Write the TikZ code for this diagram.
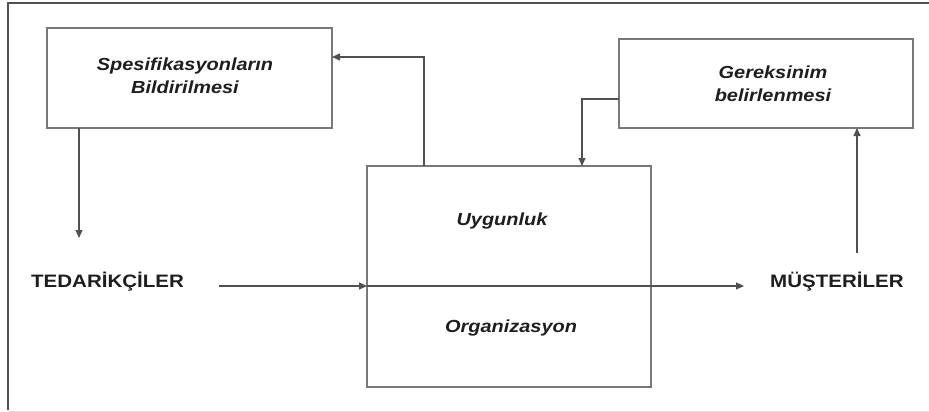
\documentclass[tikz,border=0pt]{standalone}
\usepackage{fontspec}
\setmainfont{Liberation Sans}[FakeStretch=1.14]
\usetikzlibrary{arrows.meta}
\definecolor{linegray}{RGB}{80,80,80}
\definecolor{boxgray}{RGB}{120,120,120}
\definecolor{inkgray}{RGB}{30,30,30}
\definecolor{faint}{RGB}{225,225,225}
\tikzset{
  procbox/.style={draw=boxgray, line width=1.3pt},
  boxtext/.style={text=inkgray, font=\fontsize{17.5}{23}\selectfont\bfseries\itshape, align=center},
  party/.style={text=inkgray, font=\fontsize{18}{21}\selectfont\bfseries, inner sep=0pt},
  inner/.style={text=inkgray, font=\fontsize{17.5}{21}\selectfont\bfseries\itshape, inner sep=0pt},
  flow/.style={draw=linegray, line width=1.1pt, -{Triangle[length=8pt,width=7pt]}}
}
\begin{document}
\begin{tikzpicture}[x=1pt,y=-1pt]
  \useasboundingbox (0,0) rectangle (929,412);
  % page frame
  \draw[line width=1.3pt, draw=linegray] (8,410) -- (8,3) -- (929,3);
  \draw[line width=1pt, draw=faint] (8,411) -- (929,411);

  % process boxes
  \node[procbox, minimum width=285pt, minimum height=100pt] (spec) at (189.5,78) {};
  \node[procbox, minimum width=294pt, minimum height=89pt] (need) at (766,83.5) {};
  \node[procbox, minimum width=284pt, minimum height=221pt] (org) at (509,276.5) {};

  % box texts
  \node[boxtext] (spect) at (185,76) {Spesifikasyonların\\Bildirilmesi};
  \node[boxtext] (needt) at (773,84) {Gereksinim\\belirlenmesi};
  \node[inner] (uyg) at (502,221) {Uygunluk};
  \node[inner] (orgt) at (511,328) {Organizasyon};

  % parties
  \node[party, anchor=west] (ted) at (31,282) {TEDARİKÇİLER};
  \node[party, anchor=west] (mus) at (770,282) {MÜŞTERİLER};

  % anchor points of the connectors
  \coordinate (specB) at (79,128);
  \coordinate (tedIn) at (79,238);
  \coordinate (orgTopL) at (424,166);
  \coordinate (specR) at (332,57);
  \coordinate (needL) at (619,99);
  \coordinate (orgTopR) at (582,166);
  \coordinate (musUp) at (857,253);
  \coordinate (needB) at (857,128);
  \coordinate (flowS) at (219,286);
  \coordinate (orgL) at (367,286);
  \coordinate (flowE) at (744,286);

  % connectors
  \draw[flow] (specB) -- (tedIn);
  \draw[flow] (orgTopL) |- (specR);
  \draw[flow] (needL) -| (orgTopR);
  \draw[flow] (musUp) -- (needB);
  \draw[flow] (flowS) -- (orgL);
  \draw[flow] (orgL) -- (flowE);
\end{tikzpicture}
\end{document}
